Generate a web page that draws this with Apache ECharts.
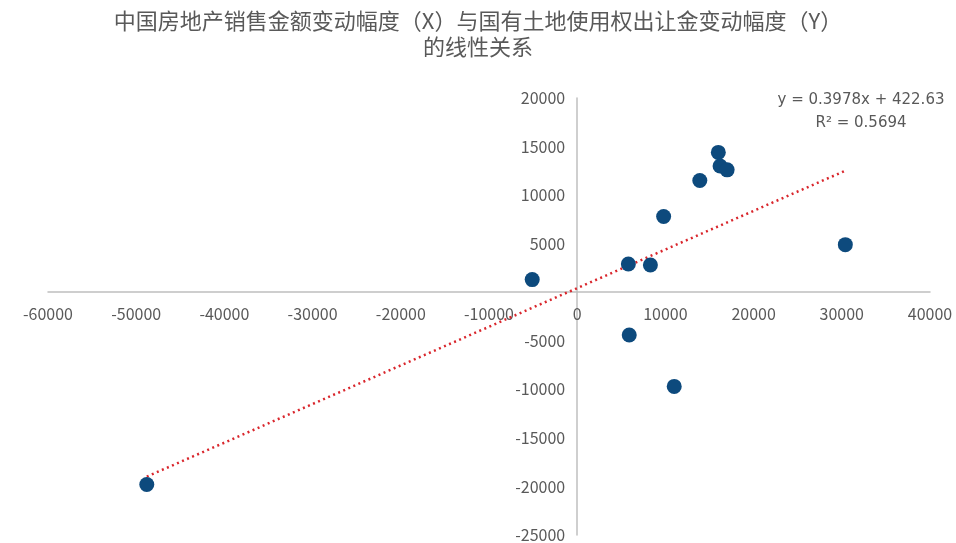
<!DOCTYPE html>
<html>
<head>
<meta charset="utf-8">
<script src="https://cdn.jsdelivr.net/npm/echarts@6/dist/echarts.min.js"></script>
<style>
  html, body { margin: 0; padding: 0; background: #fff; }
  #main { width: 956px; height: 543px; }
</style>
</head>
<body>
<div id="main"></div>
<script>
// sales change (X) vs land transfer change (Y)
var xVals = [-48800, -5100, 5800, 8300, 9800, 5900, 11000, 13900, 16000, 16200, 17000, 30400];
var yVals = [-19800, 1300, 2900, 2800, 7800, -4400, -9700, 11500, 14400, 13000, 12600, 4900];
var slope = 0.3978;
var intercept = 422.63;
var eqLabel = 'y = 0.3978x + 422.63';
var r2Label = 'R² = 0.5694';

var points = xVals.map(function (x, i) { return [x, yVals[i]]; });
var xMin = Math.min.apply(null, xVals);
var xMax = Math.max.apply(null, xVals);
var trend = [[xMin, slope * xMin + intercept], [xMax, slope * xMax + intercept]];

var chartDom = document.getElementById('main');
var myChart = echarts.init(chartDom);
var option;

var font = '"Noto Sans CJK SC", "Noto Sans", sans-serif';

// grid box, axes are shifted onto the zero lines with offsets
var gLeft = 48, gRight = 26, gTop = 98, gBottom = 8;
var gW = 956 - gLeft - gRight;
var gH = 543 - gTop - gBottom;
var zeroX = gW * 60000 / 100000;          // distance from left edge
var zeroY = gH * 20000 / 45000;           // distance from top edge

option = {
  animation: false,
  title: {
    text: '中国房地产销售金额变动幅度（X）与国有土地使用权出让金变动幅度（Y）\n的线性关系',
    left: 'center',
    top: 3,
    textStyle: {
      fontFamily: font,
      fontSize: 22,
      fontWeight: 'normal',
      color: '#595959',
      lineHeight: 26
    }
  },
  grid: {
    left: gLeft,
    right: gRight,
    top: gTop,
    bottom: gBottom,
    outerBoundsMode: 'none'
  },
  xAxis: {
    type: 'value',
    min: -60000,
    max: 40000,
    interval: 10000,
    position: 'bottom',
    offset: -(gH - zeroY),
    axisLine: { onZero: false, lineStyle: { color: '#bfbfbf', width: 1.5 } },
    axisTick: { show: false },
    splitLine: { show: false },
    axisLabel: {
      color: '#595959', fontSize: 16, fontFamily: font, margin: 14,
      formatter: function (v) { return String(v); }
    }
  },
  yAxis: {
    type: 'value',
    min: -25000,
    max: 20000,
    interval: 5000,
    position: 'left',
    offset: -zeroX,
    axisLine: { show: true, onZero: false, lineStyle: { color: '#bfbfbf', width: 1.5 } },
    axisTick: { show: false },
    splitLine: { show: false },
    axisLabel: {
      color: '#595959', fontSize: 16, fontFamily: font, margin: 12,
      formatter: function (v) { return v === 0 ? '' : String(v); }
    }
  },
  graphic: [
    {
      type: 'text',
      x: 861,
      y: 93,
      style: { text: eqLabel, fill: '#595959', font: '15px "DejaVu Sans", sans-serif', align: 'center' }
    },
    {
      type: 'text',
      x: 861,
      y: 116,
      style: { text: r2Label, fill: '#595959', font: '15px "DejaVu Sans", sans-serif', align: 'center' }
    }
  ],
  series: [
    {
      type: 'line',
      data: trend,
      symbol: 'none',
      lineStyle: { color: '#d9262c', width: 2.5, type: [2, 3.5] },
      z: 1
    },
    {
      type: 'scatter',
      data: points,
      symbolSize: 15,
      itemStyle: { color: '#0d4a7d', opacity: 1 },
      z: 2
    }
  ]
};

option && myChart.setOption(option);
</script>
</body>
</html>
